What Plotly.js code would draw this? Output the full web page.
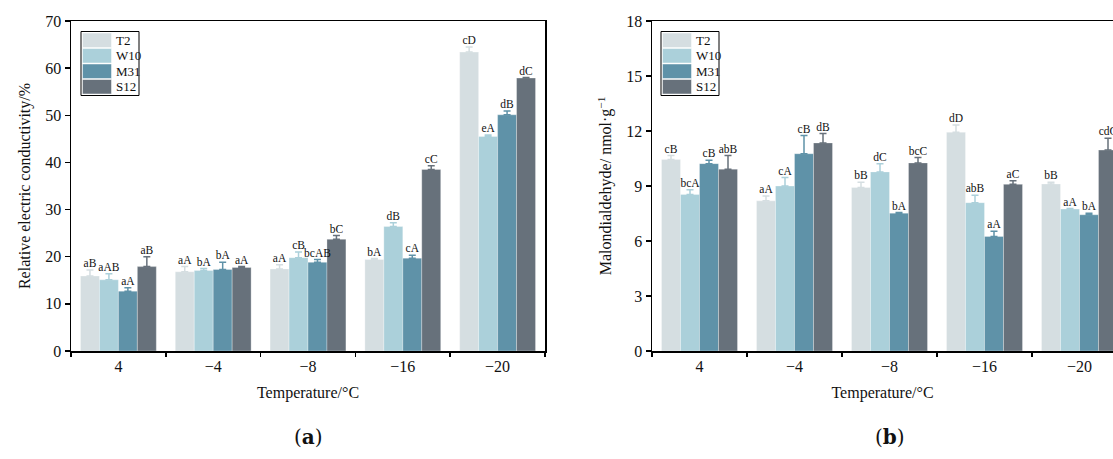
<!DOCTYPE html>
<html>
<head>
<meta charset="utf-8">
<script src="https://cdn.plot.ly/plotly-3.0.1.min.js"></script>
<style>html,body{margin:0;padding:0;background:#fff;}#chart{width:1113px;height:459px;}</style>
</head>
<body>
<div id="chart"></div>
<script>
// ---- data ----
const categories = ['4', '\u22124', '\u22128', '\u221216', '\u221220'];
const seriesNames = ['T2', 'W10', 'M31', 'S12'];

// (a) Relative electric conductivity /%
const ecT2 = [15.9, 16.8, 17.4, 19.4, 63.4];
const ecW10 = [15.1, 17.1, 19.8, 26.4, 45.5];
const ecM31 = [12.7, 17.3, 18.8, 19.7, 50.1];
const ecS12 = [17.9, 17.7, 23.7, 38.5, 57.9];
const ecErrT2 = [1.3, 1.1, 0.9, 0.2, 1.1];
const ecErrW10 = [1.3, 0.4, 1.2, 0.8, 0.3];
const ecErrM31 = [0.7, 1.5, 0.6, 0.6, 0.8];
const ecErrS12 = [2.1, 0.2, 0.8, 0.8, 0.1];
const ecLblT2 = ['aB', 'aA', 'aA', 'bA', 'cD'];
const ecLblW10 = ['aAB', 'bA', 'cB', 'dB', 'eA'];
const ecLblM31 = ['aA', 'bA', 'bcAB', 'cA', 'dB'];
const ecLblS12 = ['aB', 'aA', 'bC', 'cC', 'dC'];

// (b) Malondialdehyde / nmol·g-1
const mdaT2 = [10.44, 8.19, 8.92, 11.93, 9.11];
const mdaW10 = [8.54, 9.0, 9.77, 8.09, 7.74];
const mdaM31 = [10.22, 10.76, 7.52, 6.25, 7.43];
const mdaS12 = [9.92, 11.35, 10.26, 9.09, 10.96];
const mdaErrT2 = [0.22, 0.26, 0.28, 0.4, 0.09];
const mdaErrW10 = [0.26, 0.46, 0.45, 0.41, 0.03];
const mdaErrM31 = [0.18, 1.0, 0.04, 0.28, 0.09];
const mdaErrS12 = [0.74, 0.52, 0.3, 0.2, 0.65];
const mdaLblT2 = ['cB', 'aA', 'bB', 'dD', 'bB'];
const mdaLblW10 = ['bcA', 'cA', 'dC', 'abB', 'aA'];
const mdaLblM31 = ['cB', 'cB', 'bA', 'aA', 'bA'];
const mdaLblS12 = ['abB', 'dB', 'bcC', 'aC', 'cdC'];

// ---- styling ----
const colors = ['#d5dee1', '#abd0da', '#5f92a8', '#67717b'];
const serif = 'Liberation Serif, Times New Roman, serif';
const nGroups = seriesNames.length;
const bargap = 0.2;
const barW = (1 - bargap) / nGroups;
const idx = categories.map((_, i) => i);

const ecVals = [ecT2, ecW10, ecM31, ecS12];
const ecErrs = [ecErrT2, ecErrW10, ecErrM31, ecErrS12];
const ecLbls = [ecLblT2, ecLblW10, ecLblM31, ecLblS12];
const mdaVals = [mdaT2, mdaW10, mdaM31, mdaS12];
const mdaErrs = [mdaErrT2, mdaErrW10, mdaErrM31, mdaErrS12];
const mdaLbls = [mdaLblT2, mdaLblW10, mdaLblM31, mdaLblS12];

const traces = [];
function addPanel(vals, errs, lbls, xa, ya) {
  vals.forEach((v, j) => {
    traces.push({
      type: 'bar', x: idx, y: v, name: seriesNames[j],
      xaxis: xa, yaxis: ya, showlegend: false,
      marker: {color: colors[j], line: {color: 'rgba(255,255,255,0.6)', width: 0.5}},
      error_y: {type: 'data', array: errs[j], arrayminus: errs[j].map(() => 0), symmetric: false,
                color: colors[j], thickness: 1.5, width: 3.5},
      hoverinfo: 'skip'
    });
  });
  vals.forEach((v, j) => {
    traces.push({
      type: 'scatter', mode: 'text',
      x: idx.map(i => i + (j - (nGroups - 1) / 2) * barW),
      y: v.map((val, i) => val + errs[j][i]),
      text: lbls[j], textposition: 'top center',
      textfont: {family: serif, size: 11.5, color: '#111'},
      xaxis: xa, yaxis: ya, showlegend: false, hoverinfo: 'skip', cliponaxis: false
    });
  });
}
addPanel(ecVals, ecErrs, ecLbls, 'x', 'y');
addPanel(mdaVals, mdaErrs, mdaLbls, 'x2', 'y2');

const W = 1113, H = 459;
const yTop = 21, yBot = 351;
const dom = [ (H - yBot) / H, (H - yTop) / H ];

function xAxis(domain, range, mirror) {
  return {
    domain: domain, range: range,
    tickmode: 'array', tickvals: idx, ticktext: categories, ticks: '',
    minor: {tickmode: 'array', tickvals: idx.concat([idx.length]).map(i => i - 0.5),
            ticks: 'outside', ticklen: 4, tickwidth: 1.5, tickcolor: '#000'},
    showline: true, linecolor: '#000', linewidth: 1.5, mirror: mirror,
    showgrid: false, zeroline: false,
    tickfont: {family: serif, size: 16, color: '#111'},
    title: {text: 'Temperature/\u00b0C', font: {family: serif, size: 16, color: '#111'}, standoff: 13},
    fixedrange: true
  };
}
function yAxis(domain, range, dtick, title, mirror, anchor) {
  return {
    domain: domain, range: range, dtick: dtick, tick0: 0, anchor: anchor,
    ticks: 'outside', ticklen: 5, tickwidth: 1.5, tickcolor: '#000',
    showline: true, linecolor: '#000', linewidth: 1.5, mirror: mirror,
    showgrid: false, zeroline: false,
    tickfont: {family: serif, size: 16, color: '#111'},
    title: {text: title, font: {family: serif, size: 16, color: '#111'}, standoff: 10},
    fixedrange: true
  };
}

const xa1 = xAxis([71 / W, 545 / W], [-0.5, 4.5], true); xa1.anchor = 'y';
const xa2 = xAxis([652 / W, 1], [-0.5, 4.5 - (652 + 475 - W) / 95], true); xa2.anchor = 'y2';

// custom legends (box with stacked colour swatches), built from seriesNames / colors
const shapes = [];
const annotations = [];
function addLegend(left, top) {
  const boxW = 58, itemH = 15.5, swW = 29, pad = 1;
  const boxH = itemH * seriesNames.length + 2 * pad;
  const px = x => x / W, py = y => (H - y) / H;
  shapes.push({type: 'rect', xref: 'paper', yref: 'paper',
               x0: px(left), x1: px(left + boxW), y0: py(top), y1: py(top + boxH),
               line: {color: '#000', width: 1}, fillcolor: '#fff', layer: 'above'});
  seriesNames.forEach((nm, j) => {
    const y0 = top + pad + j * itemH;
    shapes.push({type: 'rect', xref: 'paper', yref: 'paper',
                 x0: px(left + pad + 0.5), x1: px(left + pad + 0.5 + swW),
                 y0: py(y0 + 0.5), y1: py(y0 + itemH - 0.5),
                 line: {color: 'rgba(255,255,255,0.8)', width: 0.6}, fillcolor: colors[j], layer: 'above'});
    annotations.push({text: nm, xref: 'paper', yref: 'paper',
                      x: px(left + swW + 4), y: py(y0 + itemH / 2),
                      xanchor: 'left', yanchor: 'middle', showarrow: false,
                      font: {family: serif, size: 13, color: '#111'}});
  });
}
addLegend(81, 31.5);
addLegend(661, 31.5);

annotations.push(
  {text: '(<b>a</b>)', xref: 'paper', yref: 'paper', x: 308 / W, y: (H - 437) / H,
   xanchor: 'center', yanchor: 'middle', showarrow: false,
   font: {family: 'DejaVu Serif, serif', size: 20, color: '#111'}},
  {text: '(<b>b</b>)', xref: 'paper', yref: 'paper', x: 890 / W, y: (H - 437) / H,
   xanchor: 'center', yanchor: 'middle', showarrow: false,
   font: {family: 'DejaVu Serif, serif', size: 20, color: '#111'}}
);

const layout = {
  width: W, height: H,
  margin: {l: 0, r: 0, t: 0, b: 0},
  paper_bgcolor: '#fff', plot_bgcolor: '#fff',
  barmode: 'group', bargap: bargap, bargroupgap: 0,
  showlegend: false,
  xaxis: xa1,
  yaxis: yAxis(dom, [0, 70], 10, 'Relative electric conductivity/%', true, 'x'),
  xaxis2: xa2,
  yaxis2: yAxis(dom, [0, 18], 3, 'Malondialdehyde/ nmol\u00b7g<sup>\u22121</sup>', false, 'x2'),
  shapes: shapes,
  annotations: annotations
};

Plotly.newPlot('chart', traces, layout, {displayModeBar: false, staticPlot: true});
</script>
</body>
</html>
